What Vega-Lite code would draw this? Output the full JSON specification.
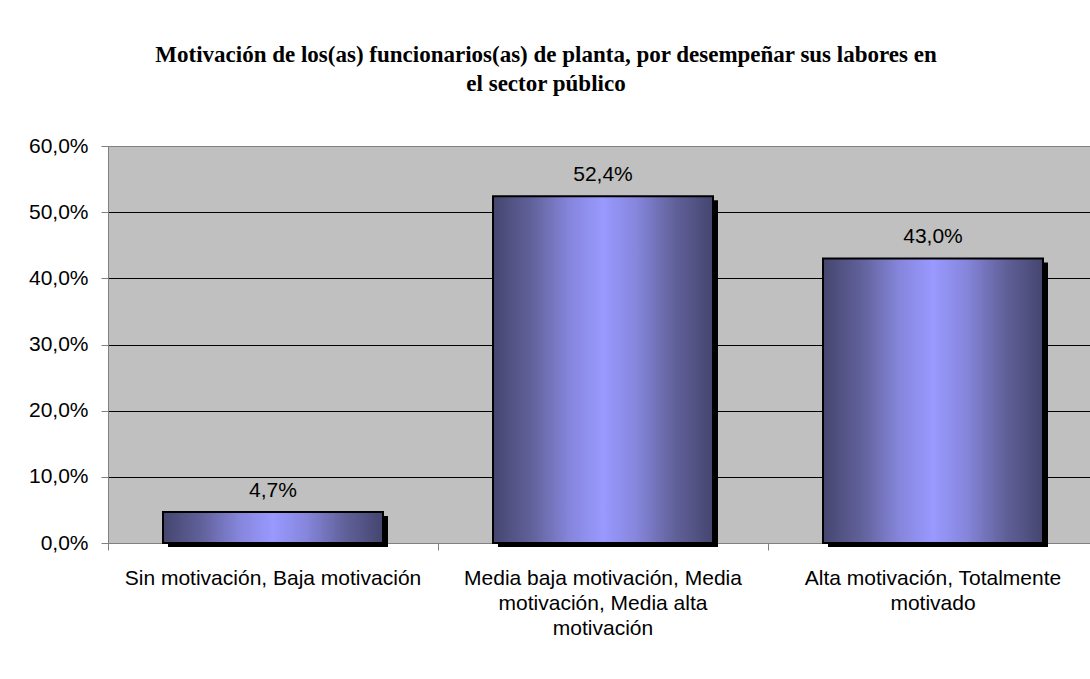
{
  "$schema": "https://vega.github.io/schema/vega-lite/v6.json",
  "width": 990,
  "height": 397,
  "autosize": {"type": "none"},
  "padding": {"left": 108, "top": 146, "right": 0, "bottom": 136},
  "background": "white",
  "title": {
    "text": ["Motivación de los(as) funcionarios(as) de planta, por desempeñar sus labores en", "el sector público"],
    "font": "Liberation Serif",
    "fontSize": 23,
    "fontWeight": "bold",
    "lineHeight": 29,
    "color": "black",
    "anchor": "middle",
    "dx": -57,
    "offset": 39
  },
  "data": {
    "values": [
      {"categoria": "Sin motivación, Baja motivación", "valor": 0.047},
      {"categoria": "Media baja motivación, Media motivación, Media alta motivación", "valor": 0.524},
      {"categoria": "Alta motivación, Totalmente motivado", "valor": 0.43}
    ]
  },
  "encoding": {
    "x": {
      "field": "categoria",
      "type": "nominal",
      "sort": null,
      "scale": {"paddingInner": 0, "paddingOuter": 0},
      "axis": {
        "title": null,
        "labelAngle": 0,
        "bandPosition": 0,
        "labelFont": "Liberation Sans",
        "labelFontSize": 21,
        "labelColor": "black",
        "labelLineHeight": 25,
        "labelLimit": 0,
        "labelPadding": 17,
        "tickSize": 7,
        "tickColor": "#808080",
        "domainColor": "#808080",
        "labelExpr": "datum.label == 'Media baja motivación, Media motivación, Media alta motivación' ? ['Media baja motivación, Media', 'motivación, Media alta', 'motivación'] : datum.label == 'Alta motivación, Totalmente motivado' ? ['Alta motivación, Totalmente', 'motivado'] : datum.label"
      }
    },
    "y": {
      "field": "valor",
      "type": "quantitative",
      "scale": {"domain": [0, 0.6], "nice": false},
      "axis": {
        "title": null,
        "format": ".1%",
        "values": [0, 0.1, 0.2, 0.3, 0.4, 0.5, 0.6],
        "labelFont": "Liberation Sans",
        "labelFontSize": 21,
        "labelColor": "black",
        "labelPadding": 13,
        "tickSize": 7,
        "tickColor": "#808080",
        "domainColor": "#808080",
        "grid": true,
        "gridColor": {"condition": {"test": "datum.value == 0 || datum.value == 0.6", "value": "#808080"}, "value": "black"},
        "gridOpacity": 1,
        "gridWidth": 1
      }
    }
  },
  "layer": [
    {
      "mark": {"type": "bar", "width": 220, "color": "black", "xOffset": 5, "x2Offset": 5, "yOffset": 4, "y2Offset": 1}
    },
    {
      "mark": {
        "type": "bar",
        "width": 220,
        "stroke": "black",
        "strokeWidth": 2,
        "color": {
          "gradient": "linear",
          "x1": 0, "y1": 0, "x2": 1, "y2": 0,
          "stops": [
            {"offset": 0, "color": "#45456f"},
            {"offset": 0.18, "color": "#62629c"},
            {"offset": 0.35, "color": "#8686dd"},
            {"offset": 0.5, "color": "#9999ff"},
            {"offset": 0.65, "color": "#8686dd"},
            {"offset": 0.82, "color": "#62629c"},
            {"offset": 1, "color": "#45456f"}
          ]
        }
      }
    },
    {
      "mark": {"type": "text", "baseline": "bottom", "dy": -11, "font": "Liberation Sans", "fontSize": 21, "color": "black"},
      "encoding": {
        "text": {"field": "valor", "type": "quantitative", "format": ".1%"}
      }
    }
  ],
  "config": {
    "locale": {"number": {"decimal": ",", "thousands": ".", "grouping": [3], "currency": ["", "€"]}},
    "view": {"fill": "#c0c0c0", "stroke": "#808080", "strokeWidth": 1}
  }
}
